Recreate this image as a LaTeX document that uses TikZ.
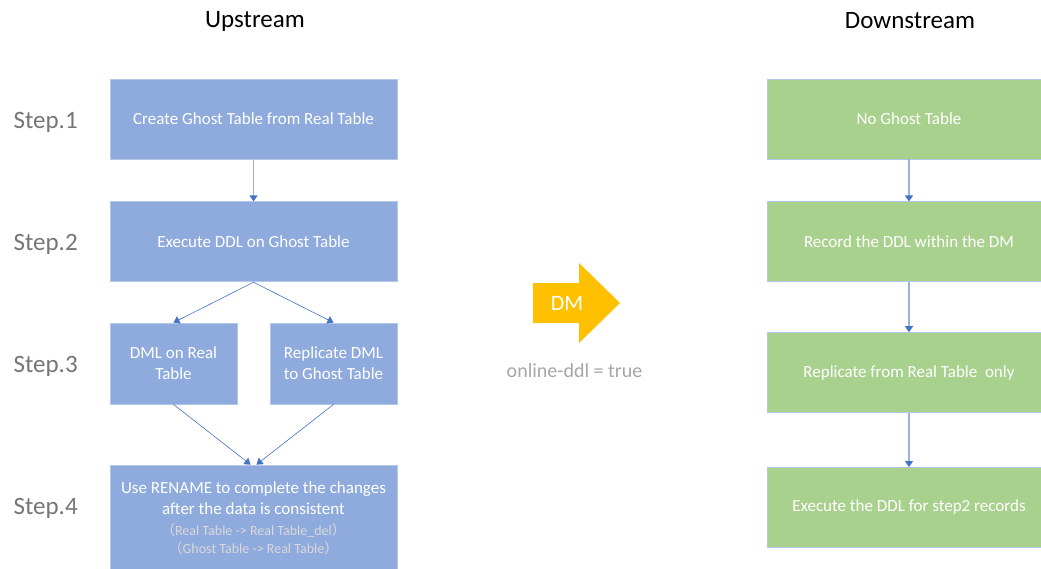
\documentclass[tikz,border=0pt]{standalone}
\usepackage{fontspec}
\setmainfont{Carlito}
\newfontfamily\cjk{Noto Sans CJK SC}
\usetikzlibrary{positioning, calc, arrows.meta}
\definecolor{upblue}{RGB}{143,170,220}
\definecolor{downgreen}{RGB}{169,209,142}
\definecolor{edgeblue}{RGB}{180,199,231}
\definecolor{linkblue}{RGB}{68,114,196}
\definecolor{stepgray}{RGB}{118,118,118}
\definecolor{notegray}{RGB}{166,166,166}
\definecolor{subgray}{RGB}{217,217,217}
\definecolor{dmorange}{RGB}{255,192,0}

\begin{document}
\begin{tikzpicture}[x=1pt, y=-1pt,
        box/.style={draw=edgeblue, line width=0.8pt, text=white, align=center, inner sep=0pt, font=\fontsize{17}{21}\selectfont},
        upbox/.style={box, fill=upblue, minimum width=287pt, minimum height=80pt},
        smallbox/.style={upbox, minimum width=127pt, minimum height=81pt},
        downbox/.style={box, fill=downgreen, minimum width=284pt, minimum height=80pt},
        steplabel/.style={anchor=west, text=stepgray, font=\fontsize{25}{29}\selectfont},
        header/.style={font=\fontsize{25}{29}\selectfont},
        vlink/.style={-{Triangle[width=8pt, length=6pt, color=linkblue]}, draw=linkblue!55, line width=1.2pt},
        dlink/.style={-{Triangle[width=8pt, length=6pt]}, draw=linkblue, line width=0.6pt}
    ]
        \path[use as bounding box, fill=white] (0,0) rectangle (1041,568);
        \newcommand{\vedge}{edge[vlink]}
        \newcommand{\dedge}{edge[dlink]}
        \newcommand{\subline}[1]{{\color{subgray}\fontsize{14}{18}\selectfont #1}}

        \node[header] (uphead) at (255,21) {Upstream};
        \node[header] (downhead) at (910,21) {Downstream};

        \node[steplabel] (step1) at (10,122) {Step.1};
        \node[steplabel] (step2) at (10,244) {Step.2};
        \node[steplabel] (step3) at (10,366) {Step.3};
        \node[steplabel] (step4) at (10,508) {Step.4};

        % upstream
        \node[upbox] (up1) at (253.5,119) {Create Ghost Table from Real Table};
        \node[upbox, below=42pt of up1] (up2) {Execute DDL on Ghost Table};
        \node[smallbox] (up3a) at (173.5,363.5) {DML on Real\\Table};
        \node[smallbox] (up3b) at (333.5,363.5) {Replicate DML\\to Ghost Table};
        \node[upbox, minimum height=106pt] (up4) at (253.5,518) {Use RENAME to complete the changes\\after the data is consistent\\\subline{{\cjk （}Real Table -> Real Table\_del{\cjk ）}}\\[-3pt]\subline{{\cjk （}Ghost Table -> Real Table{\cjk ）}}};

        % DM
        \fill[dmorange] (533,283) -- (579,283) -- (579,263) -- (620,303) -- (579,343) -- (579,323) -- (533,323) -- cycle;
        \node[text=white, font=\fontsize{22}{26}\selectfont] (dm) at (567,303) {DM};
        \node[text=notegray, font=\fontsize{20}{24}\selectfont] (ddlnote) at (574.5,371) {online-ddl = true};

        % downstream
        \node[downbox] (dn1) at (909,119) {No Ghost Table};
        \node[downbox, below=42pt of dn1] (dn2) {Record the DDL within the DM};
        \node[downbox, below=50pt of dn2] (dn3) {Replicate from Real Table~ only};
        \node[downbox, below=54pt of dn3] (dn4) {Execute the DDL for step2 records};

        \draw
            (up1) \vedge (up2)
            (dn1) \vedge (dn2)
            (dn2) \vedge (dn3)
            (dn3) \vedge (dn4)
            ;
        \draw
            (up2.south) \dedge (up3a.north)
            (up2.south) \dedge (up3b.north)
            (up3a.south) \dedge ($(up4.north)+(-3,0)$)
            (up3b.south) \dedge ($(up4.north)+(3,0)$)
            ;
    \end{tikzpicture}
\end{document}
